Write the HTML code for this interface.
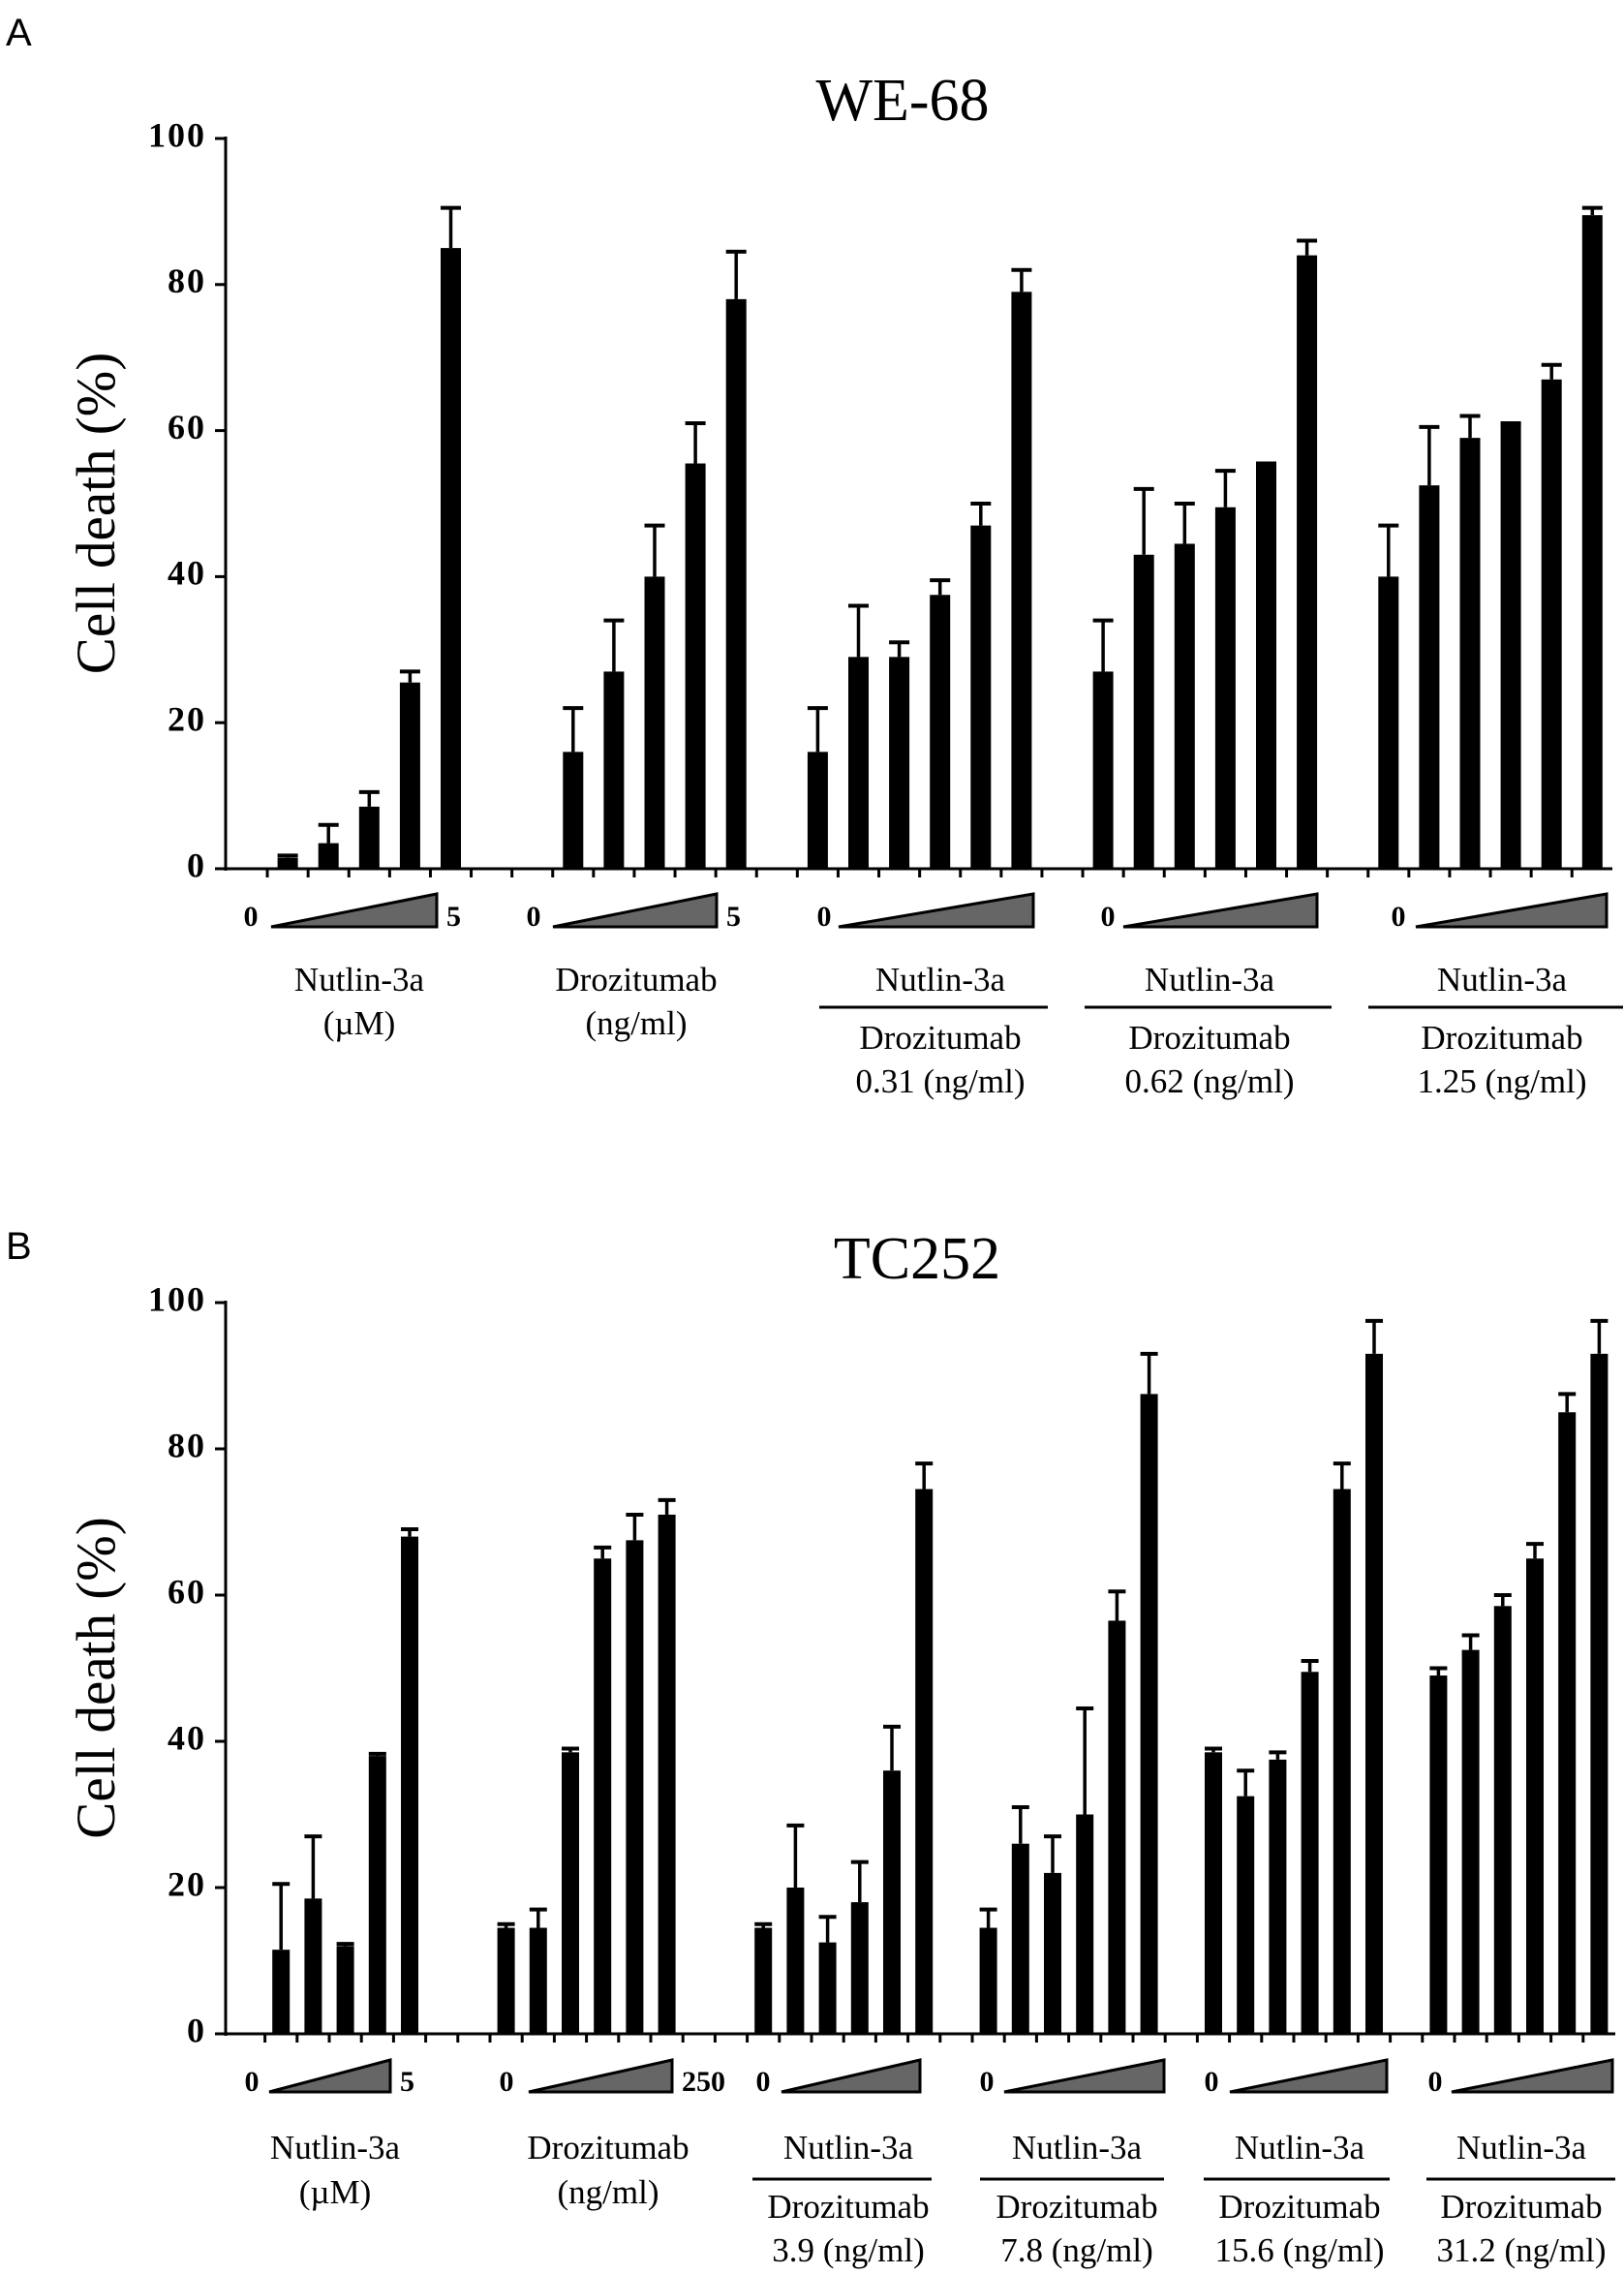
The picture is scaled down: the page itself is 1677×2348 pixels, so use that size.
<!DOCTYPE html>
<html><head><meta charset="utf-8"><style>
html,body{margin:0;padding:0;background:#fff;}
svg{display:block;}
</style></head><body>
<svg id="fig" width="1677" height="2348" viewBox="0 0 1677 2348" xmlns="http://www.w3.org/2000/svg">
<rect width="1677" height="2348" fill="#fff"/>
<g id="root"></g>
</svg>
<script>
// ---------- Panel A data (WE-68) ----------
const groupsA = ["Nutlin-3a", "Drozitumab", "Nutlin-3a + Droz 0.31", "Nutlin-3a + Droz 0.62", "Nutlin-3a + Droz 1.25"];
const valuesA = [
  [null, 1.5, 3.5, 8.5, 25.5, 85],
  [null, 16, 27, 40, 55.5, 78],
  [16, 29, 29, 37.5, 47, 79],
  [27, 43, 44.5, 49.5, 55.5, 84],
  [40, 52.5, 59, 61, 67, 89.5]
];
const errorsA = [
  [null, 0.3, 2.5, 2, 1.5, 5.5],
  [null, 6, 7, 7, 5.5, 6.5],
  [6, 7, 2, 2, 3, 3],
  [7, 9, 5.5, 5, 0, 2],
  [7, 8, 3, 0, 2, 1]
];
// ---------- Panel B data (TC252) ----------
const groupsB = ["Nutlin-3a", "Drozitumab", "Nutlin-3a + Droz 3.9", "Nutlin-3a + Droz 7.8", "Nutlin-3a + Droz 15.6", "Nutlin-3a + Droz 31.2"];
const valuesB = [
  [null, 11.5, 18.5, 12, 38, 68],
  [14.5, 14.5, 38.5, 65, 67.5, 71],
  [14.5, 20, 12.5, 18, 36, 74.5],
  [14.5, 26, 22, 30, 56.5, 87.5],
  [38.5, 32.5, 37.5, 49.5, 74.5, 93],
  [49, 52.5, 58.5, 65, 85, 93]
];
const errorsB = [
  [null, 9, 8.5, 0.3, 0.3, 1],
  [0.5, 2.5, 0.5, 1.5, 3.5, 2],
  [0.5, 8.5, 3.5, 5.5, 6, 3.5],
  [2.5, 5, 5, 14.5, 4, 5.5],
  [0.5, 3.5, 1, 1.5, 3.5, 4.5],
  [1, 2, 1.5, 2, 2.5, 4.5]
];
const yTicks = [0, 20, 40, 60, 80, 100];

const NS = "http://www.w3.org/2000/svg";
const root = document.getElementById("root");
function mk(tag, attrs, parent, text) {
  const e = document.createElementNS(NS, tag);
  for (const k in attrs) e.setAttribute(k, attrs[k]);
  if (text !== undefined) e.textContent = text;
  (parent || root).appendChild(e);
  return e;
}
const SERIF = '"Liberation Serif", serif';
const LF = 35;

function panel(cfg) {
  const g = mk("g", {});
  
  
  const y = v => cfg.y0 - (v / 100) * (cfg.y0 - cfg.y100);
  const L = mk("text", {x: 6, y: cfg.letterY, "font-family": '"Liberation Sans", sans-serif', "font-size": 40}, g, cfg.letter);
  
  
  const T = mk("text", {x: cfg.titleX, y: cfg.titleY, "font-family": SERIF, "font-size": 62, "text-anchor": "middle"}, g, cfg.title);
  
  
  const yt = mk("text", {x: 0, y: 0, transform: `translate(${cfg.axX - 128},${(cfg.y0 + cfg.y100) / 2 + 10}) rotate(-90)`, "font-family": SERIF, "font-size": 57, "text-anchor": "middle", "dominant-baseline": "middle"}, g, "Cell death (%)");
  
  
  const ya = mk("line", {x1: cfg.axX, y1: cfg.y100 - 2, x2: cfg.axX, y2: cfg.y0 + 2, stroke: "#000", "stroke-width": 3}, g);
  
  
  const xa = mk("line", {x1: cfg.axX - 2, y1: cfg.y0, x2: cfg.axEnd, y2: cfg.y0, stroke: "#000", "stroke-width": 3}, g);
  
  
  yTicks.forEach(t => {
    const tk = mk("line", {x1: cfg.axX - 11, y1: y(t), x2: cfg.axX, y2: y(t), stroke: "#000", "stroke-width": 3}, g);
    
    
    const tl = mk("text", {x: cfg.axX - 20, y: y(t), "font-family": SERIF, "font-size": 36, "font-weight": "bold", "text-anchor": "end", "dominant-baseline": "middle", "letter-spacing": 2}, g, String(t));
    
    
  });
  for (let x = cfg.slot0 + cfg.pitch / 2; x < cfg.axEnd; x += cfg.pitch) {
    const tk = mk("line", {x1: x, y1: cfg.y0, x2: x, y2: cfg.y0 + 9, stroke: "#000", "stroke-width": 3}, g);
    
    
  }
  cfg.values.forEach((grp, gi) => {
    const base = cfg.slot0 + cfg.groupStart[gi] * cfg.pitch;
    grp.forEach((v, si) => {
      if (v === null) return;
      const cx = base + si * cfg.pitch;
      const e = cfg.errors[gi][si];
      const top = y(v + e);
      const el = mk("line", {x1: cx, y1: y(v), x2: cx, y2: top, stroke: "#000", "stroke-width": 3.5}, g);
      
      
      const cap = mk("line", {x1: cx - cfg.bw * 0.5, y1: top, x2: cx + cfg.bw * 0.5, y2: top, stroke: "#000", "stroke-width": 4}, g);
      
      
      const b = mk("rect", {x: cx - cfg.bw / 2, y: y(v), width: cfg.bw, height: cfg.y0 - y(v), fill: "#000"}, g);
      
      
    });
  });
  cfg.ann.forEach((a, gi) => {
    const z = mk("text", {x: a.z, y: cfg.triB - 8, "font-family": SERIF, "font-size": 30, "font-weight": "bold", "text-anchor": "middle", "dominant-baseline": "middle"}, g, "0");
    
    
    const tr = mk("polygon", {points: `${a.t0},${cfg.triB} ${a.t1},${cfg.triT} ${a.t1},${cfg.triB}`, fill: "#666", stroke: "#000", "stroke-width": 3}, g);
    
    
    if (a.max) {
      const m = mk("text", {x: a.t1 + 10, y: cfg.triB - 8, "font-family": SERIF, "font-size": 30, "font-weight": "bold", "dominant-baseline": "middle"}, g, a.max);
      
      
    }
    const l1 = mk("text", {x: a.c, y: cfg.r1, "font-family": SERIF, "font-size": LF, "text-anchor": "middle", "dominant-baseline": "middle"}, g, a.l1);
    
    
    if (a.line) {
      const ln = mk("line", {x1: a.line[0], y1: cfg.rl, x2: a.line[1], y2: cfg.rl, stroke: "#000", "stroke-width": 3}, g);
      
      
      const l2 = mk("text", {x: a.c, y: cfg.r2c, "font-family": SERIF, "font-size": LF, "text-anchor": "middle", "dominant-baseline": "middle"}, g, a.l2);
      
      
      const l3 = mk("text", {x: a.c, y: cfg.r3, "font-family": SERIF, "font-size": LF, "text-anchor": "middle", "dominant-baseline": "middle"}, g, a.l3);
      
      
    } else {
      const l2 = mk("text", {x: a.c, y: cfg.r2, "font-family": SERIF, "font-size": LF, "text-anchor": "middle", "dominant-baseline": "middle"}, g, a.l2);
      
      
    }
  });
}

panel({
  name: "panel-a-we68", letter: "A", letterY: 47, title: "WE-68", titleX: 932, titleY: 124,
  axX: 233, axEnd: 1665, y0: 897, y100: 143,
  slot0: 255, pitch: 42.1, bw: 21, groupStart: [0, 7, 14, 21, 28],
  values: valuesA, errors: errorsA,
  triT: 923, triB: 957, r1: 1015, r2: 1060, rl: 1040, r2c: 1075, r3: 1120,
  ann: [
    {z: 259, t0: 280, t1: 451, max: "5", c: 371, l1: "Nutlin-3a", l2: "(\u00b5M)"},
    {z: 551, t0: 571, t1: 740, max: "5", c: 657, l1: "Drozitumab", l2: "(ng/ml)"},
    {z: 851, t0: 866, t1: 1067, c: 971, l1: "Nutlin-3a", l2: "Drozitumab", l3: "0.31 (ng/ml)", line: [846, 1082]},
    {z: 1144, t0: 1160, t1: 1360, c: 1249, l1: "Nutlin-3a", l2: "Drozitumab", l3: "0.62 (ng/ml)", line: [1120, 1375]},
    {z: 1444, t0: 1462, t1: 1659, c: 1551, l1: "Nutlin-3a", l2: "Drozitumab", l3: "1.25  (ng/ml)", line: [1413, 1676]}
  ]
});

panel({
  name: "panel-b-tc252", letter: "B", letterY: 1300, title: "TC252", titleX: 947, titleY: 1320,
  axX: 233, axEnd: 1668, y0: 2100, y100: 1345,
  slot0: 257, pitch: 33.2, bw: 18, groupStart: [0, 8, 16, 23, 30, 37],
  values: valuesB, errors: errorsB,
  triT: 2127, triB: 2160, r1: 2221, r2: 2267, rl: 2250, r2c: 2282, r3: 2327,
  ann: [
    {z: 260, t0: 278, t1: 403, max: "5", c: 346, l1: "Nutlin-3a", l2: "(\u00b5M)"},
    {z: 523, t0: 546, t1: 694, max: "250", c: 628, l1: "Drozitumab", l2: "(ng/ml)"},
    {z: 788, t0: 807, t1: 950, c: 876, l1: "Nutlin-3a", l2: "Drozitumab", l3: "3.9 (ng/ml)", line: [777, 962]},
    {z: 1019, t0: 1037, t1: 1202, c: 1112, l1: "Nutlin-3a", l2: "Drozitumab", l3: "7.8 (ng/ml)", line: [1012, 1202]},
    {z: 1251, t0: 1270, t1: 1432, c: 1342, l1: "Nutlin-3a", l2: "Drozitumab", l3: "15.6 (ng/ml)", line: [1243, 1435]},
    {z: 1482, t0: 1499, t1: 1665, c: 1571, l1: "Nutlin-3a", l2: "Drozitumab", l3: "31.2 (ng/ml)", line: [1473, 1668]}
  ]
});
</script>
</body></html>
